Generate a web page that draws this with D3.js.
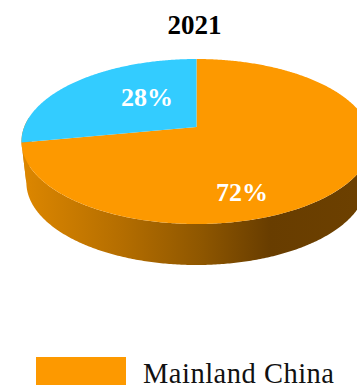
<!DOCTYPE html>
<html>
<head>
<meta charset="utf-8">
<script src="https://cdn.jsdelivr.net/npm/d3@7"></script>
<style>
html, body { margin: 0; padding: 0; background: #fff; overflow: hidden; }
svg { display: block; }
text { font-family: "Liberation Serif", serif; }
</style>
</head>
<body>
<svg id="chart" width="357" height="389"></svg>
<script>
const title = "2021";
const regions = ["Mainland China", "Other"];
const shares = [72, 28];
const sliceColors = ["#fd9900", "#33ccff"];

const width = 357, height = 389;

// Tilted disc: unit circle through a perspective projection.
const vertex = { x: 196.5, y: 127 };
const depth = 41;
const tilt = 0.1758, scaleY = 79.95, scaleX = 172.3;
const sideShrink = 0.972;

function project(angle, r = 1) {
  const u = Math.sin(angle) * r, v = Math.cos(angle) * r;
  const w = 1 + tilt * v;
  return [vertex.x + scaleX * u / w, vertex.y - scaleY * v / w];
}
// The rim's lower edge sits further from the viewer, so it is slightly narrower.
function projectLow(angle) {
  const [x, y] = project(angle);
  return [vertex.x + (x - vertex.x) * sideShrink, y + depth];
}

const svg = d3.select("#chart");
const line = d3.line();

const defs = svg.append("defs");
const rimScale = d3.scaleLinear().domain([22, 357]).range([0, 100]);
const rimStops = [[22, "#dd8700"], [120, "#b56e00"], [200, "#8f5700"], [270, "#683d00"], [357, "#6c4000"]];
const grad = defs.append("linearGradient")
  .attr("id", "rim")
  .attr("gradientUnits", "userSpaceOnUse")
  .attr("x1", 22).attr("x2", 357).attr("y1", 0).attr("y2", 0);
grad.selectAll("stop").data(rimStops).join("stop")
  .attr("offset", d => rimScale(d[0]) + "%")
  .attr("stop-color", d => d[1]);

const pie = d3.pie().sort(null).value(d => d.value).startAngle(0).endAngle(2 * Math.PI);
const arcs = pie(regions.map((name, i) => ({ name, value: shares[i], color: sliceColors[i] })));

function sweep(a0, a1, fn) {
  const n = Math.max(2, Math.ceil((a1 - a0) / 0.01));
  return d3.range(n + 1).map(i => fn(a0 + (a1 - a0) * i / n));
}

// Rim: only the part of each slice that faces the viewer.
const frontStart = Math.PI / 2 - 0.05, frontEnd = 1.5 * Math.PI + 0.12;
arcs.forEach(d => {
  const a0 = Math.max(d.startAngle, frontStart), a1 = Math.min(d.endAngle, frontEnd);
  if (a1 <= a0) return;
  const pts = sweep(a0, a1, project).concat(sweep(a0, a1, projectLow).reverse());
  svg.append("path").attr("d", line(pts) + "Z").attr("fill", "url(#rim)");
});

// Top face
svg.selectAll("path.slice").data(arcs).join("path")
  .attr("class", "slice")
  .attr("fill", d => d.data.color)
  .attr("d", d => line([[vertex.x, vertex.y]].concat(sweep(d.startAngle, d.endAngle, project))) + "Z");

// Percentage labels
const labelPos = [[242, 200.5], [147, 105.5]];
svg.selectAll("text.pct").data(arcs).join("text")
  .attr("class", "pct")
  .attr("x", (d, i) => labelPos[i][0])
  .attr("y", (d, i) => labelPos[i][1])
  .attr("text-anchor", "middle")
  .attr("fill", "#fff")
  .attr("font-size", 26)
  .attr("font-weight", 700)
  .text(d => d.data.value + "%");

svg.append("text")
  .attr("x", 194.5).attr("y", 33.5)
  .attr("text-anchor", "middle")
  .attr("font-size", 27).attr("font-weight", 700)
  .attr("fill", "#000")
  .text(title);

// Legend
svg.append("rect")
  .attr("x", 36).attr("y", 357).attr("width", 90).attr("height", 28)
  .attr("fill", sliceColors[0]);
svg.append("text")
  .attr("x", 143).attr("y", 383)
  .attr("font-size", 28.5)
  .attr("textLength", 191)
  .attr("fill", "#111")
  .text(regions[0]);
</script>
</body>
</html>
